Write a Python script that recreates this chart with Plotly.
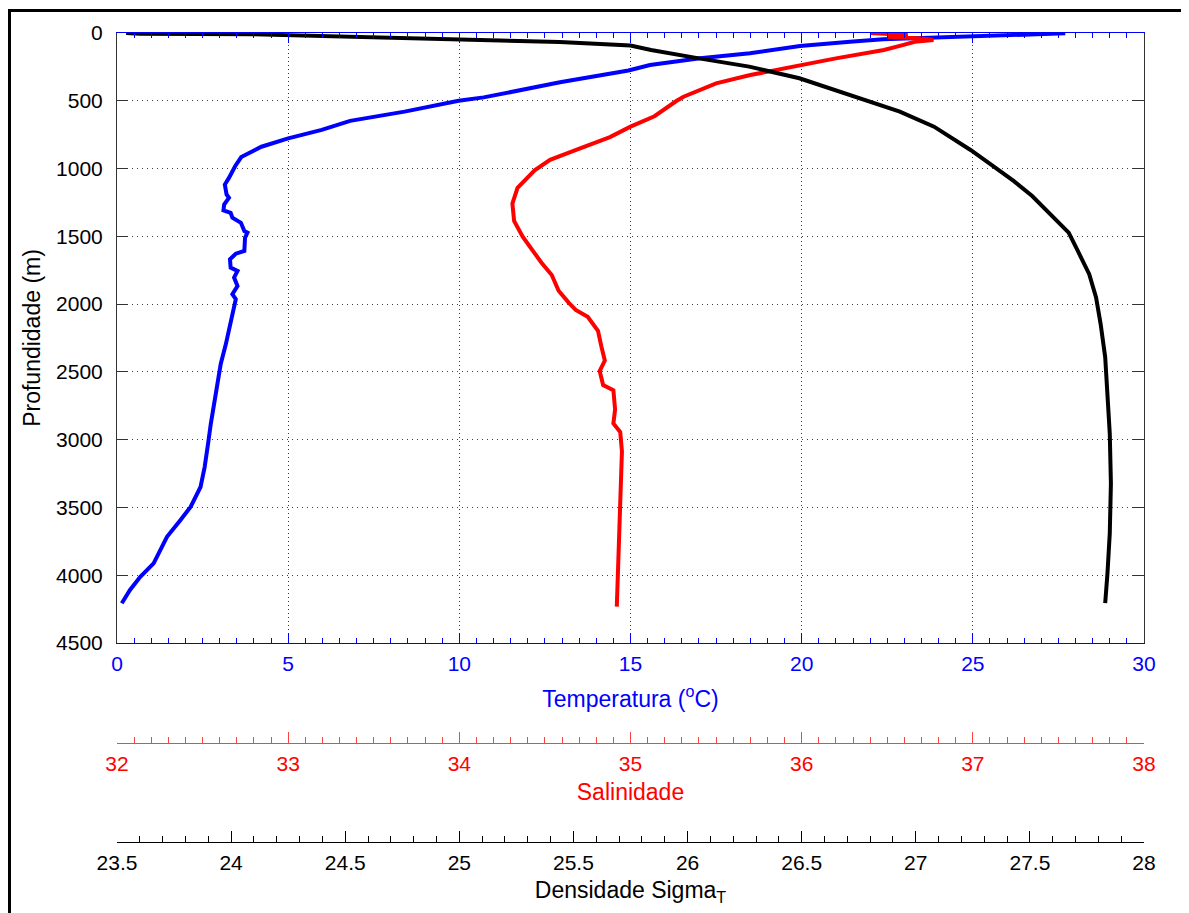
import plotly.graph_objects as go

# ---------------- data ----------------
temp_depth = [2, 20, 32, 47, 64, 96, 150, 187, 236, 277, 364, 475, 500, 580, 648, 715, 777, 839,
              915, 983, 1069, 1118, 1191, 1216, 1265, 1309, 1326, 1363, 1400, 1461, 1473, 1510,
              1608, 1628, 1669, 1731, 1755, 1804, 1866, 1927, 1964, 2025, 2148, 2295, 2442, 2589,
              2736, 2883, 3030, 3202, 3349, 3496, 3594, 3717, 3913, 4011, 4109, 4207]
temp_vals = [27.7, 25.3, 23.95, 22.38, 21.41, 19.95, 18.49, 17.03, 15.57, 14.94, 12.94, 10.71, 9.98,
             8.4, 6.81, 5.98, 5.0, 4.22, 3.63, 3.45, 3.27, 3.15, 3.20, 3.27, 3.13, 3.11, 3.32, 3.37,
             3.62, 3.72, 3.81, 3.74, 3.72, 3.47, 3.30, 3.32, 3.52, 3.42, 3.52, 3.37, 3.47, 3.42,
             3.32, 3.18, 3.03, 2.93, 2.83, 2.74, 2.66, 2.56, 2.44, 2.15, 1.85, 1.46, 1.07, 0.68,
             0.38, 0.14]

sal_depth = [0, 8, 15, 28, 40, 52, 65, 89, 125, 187, 236, 273, 310, 371, 470, 500, 614, 691, 768,
             858, 936, 1013, 1142, 1258, 1386, 1502, 1592, 1695, 1785, 1901, 1991, 2043, 2094,
             2197, 2313, 2416, 2494, 2597, 2635, 2777, 2880, 2944, 3086, 3472, 3858, 4232]
sal_vals = [36.40, 36.50, 36.62, 36.50, 36.70, 36.77, 36.66, 36.59, 36.48, 36.20, 35.99, 35.83,
            35.70, 35.50, 35.31, 35.27, 35.14, 35.00, 34.88, 34.69, 34.53, 34.44, 34.34, 34.31,
            34.32, 34.37, 34.42, 34.48, 34.54, 34.58, 34.64, 34.68, 34.75, 34.81, 34.83, 34.85,
            34.82, 34.84, 34.90, 34.91, 34.90, 34.94, 34.95, 34.94, 34.93, 34.92]

dens_depth = [0, 5, 10, 25, 42, 67, 92, 125, 187, 248, 334, 457, 580, 691, 863, 971, 1093, 1203,
              1338, 1473, 1608, 1779, 1951, 2147, 2392, 2637, 2956, 3324, 3691, 3985, 4206]
dens_vals = [23.54, 23.60, 24.10, 24.44, 24.94, 25.44, 25.75, 25.84, 26.05, 26.27, 26.49, 26.71,
             26.93, 27.08, 27.24, 27.33, 27.43, 27.51, 27.59, 27.67, 27.71, 27.76, 27.79, 27.81,
             27.83, 27.84, 27.85, 27.855, 27.85, 27.84, 27.83]

temp_ticks = [0, 5, 10, 15, 20, 25, 30]
sal_ticks = [32, 33, 34, 35, 36, 37, 38]
dens_ticks = [23.5, 24, 24.5, 25, 25.5, 26, 26.5, 27, 27.5, 28]
depth_ticks = [0, 500, 1000, 1500, 2000, 2500, 3000, 3500, 4000, 4500]

# ---------------- layout geometry ----------------
# the page body has an 8px margin, so the figure is offset by 8px
W, H = 1181, 905
ML, MR, MT, MB = 109, 45, 25, 71
PW = W - ML - MR
PH = H - MT - MB
y_bottom_px = 643 - 8
sal_px = 743 - 8
ydom0 = (H - MB - y_bottom_px) / PH
sal_pos = (H - MB - sal_px) / PH

FONT = "Liberation Sans, Arial, sans-serif"
TICKF = 21
TITLEF = 23

fig = go.Figure()
fig.add_trace(go.Scatter(x=temp_vals, y=temp_depth, mode="lines", xaxis="x", yaxis="y",
                         line=dict(color="#0000FF", width=4), showlegend=False))
fig.add_trace(go.Scatter(x=sal_vals, y=sal_depth, mode="lines", xaxis="x2", yaxis="y",
                         line=dict(color="#FF0000", width=4), showlegend=False))
fig.add_trace(go.Scatter(x=dens_vals, y=dens_depth, mode="lines", xaxis="x3", yaxis="y",
                         line=dict(color="#000000", width=4), showlegend=False))

fig.update_layout(
    width=W, height=H,
    margin=dict(l=ML, r=MR, t=MT, b=MB, pad=0),
    paper_bgcolor="white", plot_bgcolor="white",
    font=dict(family=FONT, size=TICKF, color="black"),
    xaxis=dict(
        range=[0, 30], tickvals=temp_ticks, anchor="y", side="bottom",
        showline=True, linecolor="#0000FF", linewidth=1, mirror="ticks",
        ticks="inside", ticklen=10, tickcolor="#0000FF", tickwidth=1,
        tickfont=dict(color="#0000FF", size=TICKF, family=FONT),
        ticklabelstandoff=2,
        minor=dict(dtick=0.5, ticks="inside", ticklen=5, tickcolor="#0000FF", showgrid=False),
        showgrid=True, gridcolor="#2020FF", gridwidth=1, griddash="1px,3px",
        zeroline=False,
        title=dict(text="Temperatura (<sup>o</sup>C)", font=dict(color="#0000FF", size=TITLEF, family=FONT),
                   standoff=16),
    ),
    xaxis2=dict(
        range=[32, 38], tickvals=sal_ticks, overlaying="x", anchor="free", position=sal_pos,
        side="bottom",
        showline=True, linecolor="#FF4040", linewidth=1,
        ticks="inside", ticklen=11, tickcolor="#FF4040", tickwidth=1,
        tickfont=dict(color="#FF0000", size=TICKF, family=FONT),
        ticklabelstandoff=2,
        minor=dict(dtick=0.1, ticks="inside", ticklen=6, tickcolor="#FF4040", showgrid=False),
        showgrid=False, zeroline=False,
        title=dict(text="Salinidade", font=dict(color="#FF0000", size=TITLEF, family=FONT), standoff=9),
    ),
    xaxis3=dict(
        range=[23.5, 28], tickvals=dens_ticks, overlaying="x", anchor="free", position=0,
        side="bottom",
        showline=True, linecolor="#000000", linewidth=1,
        ticks="inside", ticklen=11, tickcolor="#000000", tickwidth=1,
        tickfont=dict(color="#000000", size=TICKF, family=FONT),
        ticklabelstandoff=2,
        minor=dict(dtick=0.1, ticks="inside", ticklen=6, tickcolor="#000000", showgrid=False),
        showgrid=False, zeroline=False,
        title=dict(text="Densidade Sigma<sub>T</sub>", font=dict(color="#000000", size=TITLEF, family=FONT),
                   standoff=8),
    ),
    yaxis=dict(
        range=[4500, 0], tickvals=depth_ticks, domain=[ydom0, 1], anchor="x",
        showline=True, linecolor="#333333", linewidth=1, mirror="ticks",
        ticks="inside", ticklen=11, tickcolor="#333333", tickwidth=1,
        tickfont=dict(color="#000000", size=TICKF, family=FONT),
        ticklabelstandoff=9,
        showgrid=True, gridcolor="#404040", gridwidth=1, griddash="1px,4px",
        zeroline=False,
        title=dict(text="Profundidade (m)", font=dict(color="#000000", size=TITLEF, family=FONT),
                   standoff=9),
    ),
)

# outer black frame (MATLAB figure border)
fig.add_shape(type="rect", xref="paper", yref="paper",
              x0=(1.5 - ML) / PW, x1=1.4, y0=-0.4, y1=(H - MB - 2.5) / PH,
              line=dict(color="black", width=3), fillcolor="rgba(0,0,0,0)", layer="above")

fig.write_html("out.html")
